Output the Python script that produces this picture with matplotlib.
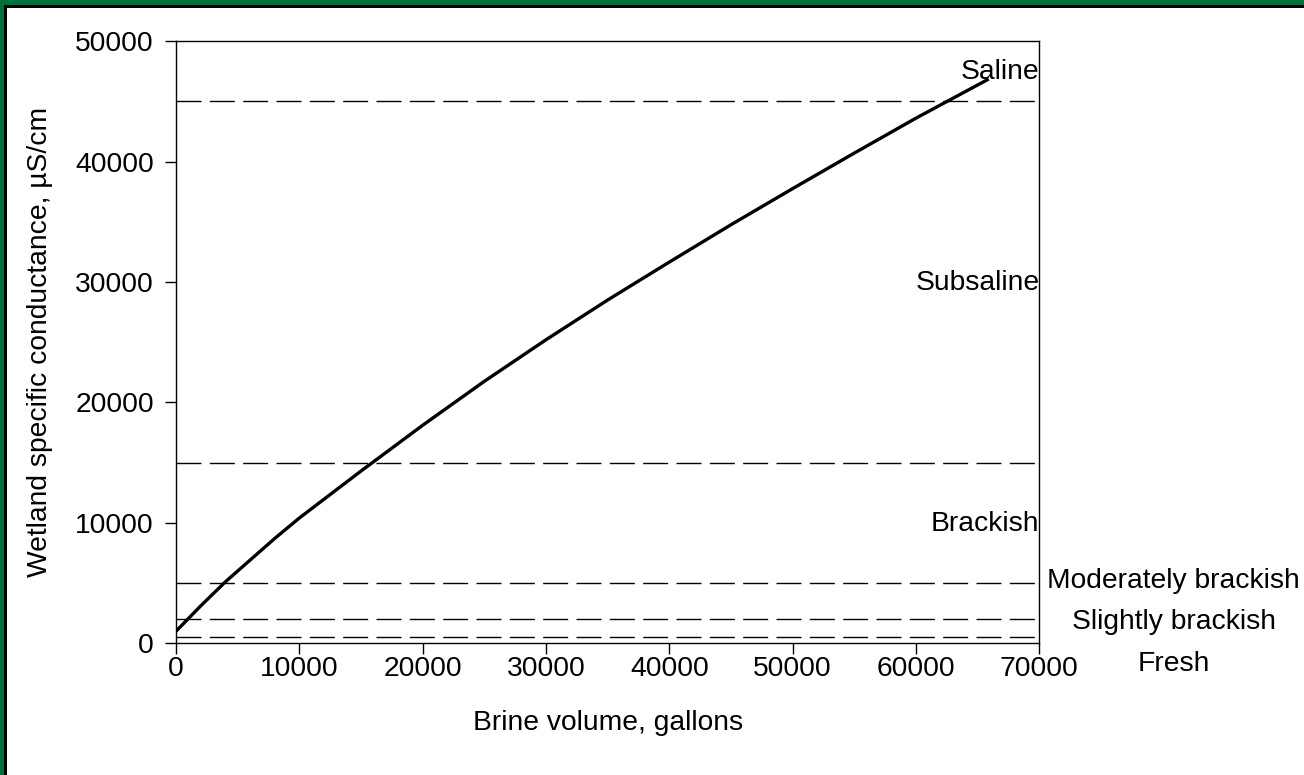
import numpy as np
import matplotlib.pyplot as plt
from matplotlib.patches import Rectangle

plt.rcParams["font.family"] = ["Liberation Sans", "DejaVu Sans"]
plt.rcParams["font.size"] = 20.3

################################################################################
# Data
################################################################################

# Brine volume (gallons) vs wetland specific conductance (uS/cm)
a_brine_gal = [0, 2000, 4000, 6000, 8000, 10000, 15000, 20000, 25000, 30000,
               35000, 40000, 45000, 50000, 55000, 60000, 65900]
a_sc_uScm   = [1000, 3100, 5100, 6900, 8700, 10400, 14300, 18100, 21750, 25200,
               28500, 31650, 34750, 37750, 40700, 43600, 46850]

# Salinity class boundaries
a_class_breaks = [500, 2000, 5000, 15000, 45000]

# Class labels inside the plot (right aligned at the right spine)
a_inner_labels = ["Saline", "Subsaline", "Brackish"]
a_inner_y      = [47450, 29950, 9900]

# Class labels to the right of the plot
a_outer_labels = ["Moderately brackish", "Slightly brackish", "Fresh"]
a_outer_y      = [5170, 1770, -1720]

################################################################################
# Plotting
################################################################################

fig = plt.figure(figsize = (13.04, 7.75), dpi = 100)
ax = fig.add_axes([0.135, 0.17, 0.662, 0.777])

for y_break in a_class_breaks:
    ax.axhline(y_break, color = "black", linewidth = 1.0, dashes = (18, 6))

ax.plot(a_brine_gal, a_sc_uScm, color = "black", linewidth = 2.4,
        solid_capstyle = "butt", solid_joinstyle = "round")

ax.set_xlim(0, 70000)
ax.set_ylim(0, 50000)
ax.set_xticks(np.arange(0, 70001, 10000))
ax.set_yticks(np.arange(0, 50001, 10000))
ax.tick_params(direction = "out", length = 8, width = 1.0)
ax.tick_params(axis = "x", pad = 1)
ax.tick_params(axis = "y", pad = 8)
for spine in ax.spines.values():
    spine.set_linewidth(1.0)

ax.set_xlabel("Brine volume, gallons", labelpad = 20)
ax.set_ylabel("Wetland specific conductance, µS/cm", labelpad = 16)

for label, y in zip(a_inner_labels, a_inner_y):
    ax.text(70000, y, label, ha = "right", va = "center")

for label, y in zip(a_outer_labels, a_outer_y):
    ax.text(80900, y, label, ha = "center", va = "center", clip_on = False)

# Slide frame: green band with a black inner edge along top and left
green = "#00703c"
fig.patches.append(Rectangle((0, 1 - 5 / 775), 1, 5 / 775, transform = fig.transFigure,
                             facecolor = green, edgecolor = "none"))
fig.patches.append(Rectangle((0, 0), 4 / 1304, 1, transform = fig.transFigure,
                             facecolor = green, edgecolor = "none"))
fig.patches.append(Rectangle((4 / 1304, 1 - 8 / 775), 1, 3 / 775, transform = fig.transFigure,
                             facecolor = "black", edgecolor = "none"))
fig.patches.append(Rectangle((4 / 1304, 0), 3 / 1304, 1 - 5 / 775, transform = fig.transFigure,
                             facecolor = "black", edgecolor = "none"))

fig.savefig("out.png", dpi = 100)
plt.close()
